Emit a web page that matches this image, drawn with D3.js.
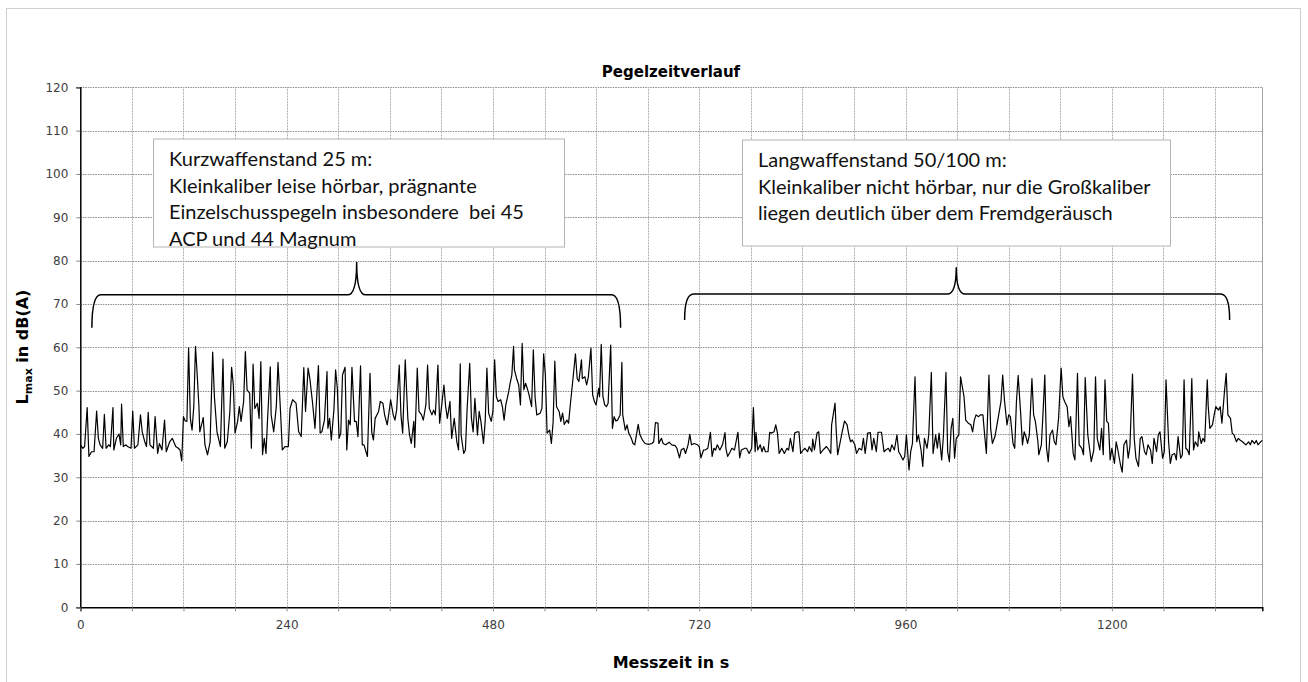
<!DOCTYPE html>
<html>
<head>
<meta charset="utf-8">
<script src="https://cdn.jsdelivr.net/npm/d3@7/dist/d3.min.js"></script>
<style>
  body { margin: 0; background: #fff; }
  svg { display: block; }
</style>
</head>
<body>
<div id="chart"></div>
<script>
var times = [
  0,3,5,8,10,13,16,19,21,23,26,28,30,33,35,38,39,42,45,47,48,50,53,55,59,61,63,67,70,72,75,77,79,81,85,87,90,92,95,98,
  100,104,107,111,114,116,118,120,122,124,126,128,130,132,134,136,138,139,142,143,145,148,151,154,156,159,163,166,168,171,
  174,176,178,180,183,185,187,190,192,194,197,199,201,203,206,208,210,212,214,216,218,221,222,225,228,230,233,235,238,242,
  244,247,251,254,257,260,262,265,267,270,
  273,277,279,281,284,287,288,290,292,295,297,299,301,303,305,308,310,312,314,316,319,321,323,326,328,330,334,337,339,341,
  343,347,349,352,354,357,359,361,364,366,368,371,373,375,378,381,383,385,388,389,392,394,397,399,402,404,406,409,411,413,
  416,418,420,423,425,427,430,432,435,438,440,442,443,446,448,450,453,455,457,459,462,464,466,469,471,473,475,478,480,482,
  484,486,489,491,493,495,498,500,502,504,505,508,510,512,514,516,518,520,522,525,527,529,531,535,537,539,541,543,546,548,
  550,552,554,557,559,561,563,566,568,570,573,576,578,580,583,584,587,589,591,594,596,598,600,603,604,606,608,610,612,614,
  617,619,621,623,625,628,630,631,634,636,638,641,643,645,649,651,654,657,661,665,667,669,672,673,676,678,681,685,688,692,
  694,697,699,702,704,707,709,711,714,718,720,722,725,727,730,733,735,737,739,741,744,747,750,751,753,756,758,761,765,767,
  769,773,775,778,781,783,785,786,788,791,793,795,797,800,802,804,807,809,811,813,816,819,822,
  824,826,829,831,834,836,838,841,843,846,848,851,852,854,857,859,861,864,868,871,873,874,878,879,881,884,886,889,892,894,
  896,898,901,903,906,909,911,913,916,919,921,923,926,928,932,935,937,940,942,944,947,950,952,954,957,959,961,964,966,968,
  971,973,975,978,980,982,985,987,990,992,995,997,999,1002,1004,1007,1009,1011,1013,1015,1017,1019,1022,1024,1026,1028,1030,1033,1036,1038,
  1040,1042,1045,1047,1050,1052,1054,1057,1059,1061,1064,1066,1068,1071,1073,1075,1078,1080,1082,1085,1087,1089,1091,1094,1096,1098,
  1100,1102,1104,1107,1109,1111,1114,1115,1118,1120,1122,1124,1126,1128,1131,1133,1135,1138,1141,1143,1145,1148,1150,1152,1155,1157,1160,1162,1165,1167,
  1169,1172,1174,1176,1179,1181,1183,1186,1188,1190,1192,1194,1196,1198,1200,1203,1205,1207,1210,1212,1214,1217,1219,1221,1224,1226,1228,1231,1233,1235,
  1238,1240,1242,1245,1247,1249,1252,1254,1256,1259,1261,1263,1266,1268,1270,1273,1275,1277,1280,1282,1284,1286,1288,1290,1293,1295,1297,1300,1301,1304,
  1306,1308,1311,1312,1314,1317,1319,1321,1324,1326,1328,1331,1333,1335,1338,1340,1342,1345,1347,1349,1352,1354,1356,1359,1361,1363,1366,1368,1370,1373,1375
];
// L_max in dB(A)
var levels = [
  37.5,36.7,37.1,46.1,34.8,35.9,35.9,45.3,39.0,37.5,36.7,44.5,36.7,37.5,37.1,46.1,36.3,39.0,40.0,37.5,46.9,37.1,37.5,37.1,36.7,45.3,36.7,37.5,44.4,40.5,38.2,37.1,45.0,37.5,36.7,44.0,35.5,37.8,36.3,43.2,
  35.9,38.2,39.0,37.1,36.7,36.3,33.8,44.0,43.0,42.9,59.9,43.6,40.9,46.3,60.2,53.6,46.3,40.5,42.9,43.8,37.5,35.2,38.2,58.9,48.6,40.5,37.1,57.3,36.7,38.2,
  45.2,55.4,51.3,40.2,42.9,46.3,42.9,47.5,59.0,50.2,49.4,36.7,56.1,45.9,47.1,43.6,56.7,35.2,39.0,35.5,44.0,55.5,44.4,40.5,46.3,56.5,44.8,36.3,37.1,37.1,
  45.9,47.9,47.1,40.5,39.4,55.3,45.2,55.2,52.8,47.5,
  41.3,55.8,40.2,40.5,43.2,54.4,41.3,43.6,38.6,45.5,54.8,50.5,39.0,40.2,53.6,55.4,36.3,43.2,42.1,55.4,42.9,42.9,39.4,55.7,37.5,37.5,34.8,54.0,40.5,38.6,
  43.6,45.2,47.5,47.1,44.4,42.1,44.8,47.9,44.4,43.2,45.5,55.9,44.4,40.2,57.1,43.6,39.8,37.8,42.9,36.9,55.2,45.2,44.4,43.2,46.7,55.9,45.9,44.4,45.5,44.4,
  55.9,42.5,45.9,51.3,46.3,43.6,47.5,39.0,43.6,38.2,36.3,56.2,39.8,35.5,36.3,45.9,56.3,43.6,40.5,48.2,39.8,45.2,42.9,37.8,42.9,55.2,44.8,42.9,45.2,57.1,
  48.6,47.5,47.9,46.3,43.2,46.7,49.4,51.7,53.6,60.2,54.8,52.5,51.3,46.7,60.9,50.2,51.7,50.5,49.0,46.3,59.4,48.6,44.4,44.8,45.9,58.5,53.6,40.2,40.9,37.8,
  42.7,56.8,46.3,45.2,42.9,44.8,42.2,43.2,42.5,46.7,52.5,58.5,52.8,52.1,57.1,52.8,53.2,51.3,53.2,59.8,49.0,47.5,46.7,50.5,48.6,60.7,48.6,46.7,46.3,47.1,
  60.5,41.3,44.0,43.0,43.2,44.4,56.5,44.4,40.9,42.1,40.2,39.0,37.8,37.5,42.2,39.8,38.6,37.8,37.6,37.8,38.2,42.6,42.5,37.8,39.0,37.8,37.5,38.1,37.5,37.3,
  36.7,34.5,36.3,36.7,35.5,37.5,39.9,37.5,37.8,37.5,37.1,34.5,36.3,36.3,36.7,40.4,34.8,36.7,36.3,37.5,36.3,37.5,40.3,36.7,34.8,35.9,36.7,36.3,40.4,34.5,
  36.3,36.7,36.7,35.5,36.7,46.1,35.9,40.4,36.3,37.5,35.9,37.1,35.9,35.9,40.4,40.2,40.5,42.1,40.2,35.5,36.7,35.5,36.7,
  36.3,39.0,35.9,40.2,40.5,40.5,35.5,36.3,36.7,35.9,37.1,35.9,38.8,36.3,40.2,40.5,35.5,36.3,37.1,36.3,35.5,42.1,47.1,42.1,35.2,38.2,40.2,43.0,42.1,39.8,
  38.2,38.6,37.5,35.5,36.7,36.3,39.0,35.5,40.2,40.3,36.3,39.0,35.9,40.4,40.4,35.9,36.3,36.7,35.9,37.5,36.3,39.8,35.9,35.2,34.0,34.8,39.8,31.7,35.9,37.8,
  53.2,38.2,39.8,36.3,32.5,39.0,36.7,39.8,54.2,35.5,39.8,36.7,40.2,34.0,39.4,54.2,35.9,33.6,41.3,43.6,34.4,39.0,39.8,53.2,50.9,48.6,43.2,42.5,42.1,40.5,
  43.2,44.4,44.0,44.4,44.4,39.8,35.5,53.6,41.3,37.8,39.4,41.7,44.0,47.5,53.6,47.9,42.1,44.4,44.0,37.8,36.7,47.5,53.5,44.4,37.5,40.5,
  39.4,37.8,39.8,52.8,44.4,42.9,38.2,35.2,37.5,45.2,53.6,36.7,33.6,39.8,40.9,38.2,37.5,43.6,55.2,48.6,47.5,46.3,41.7,44.0,35.5,34.0,54.0,37.5,36.7,35.2,
  53.0,39.8,36.7,33.6,36.3,53.2,39.0,36.3,41.3,35.2,52.5,42.9,42.5,34.0,36.7,33.2,38.2,36.3,32.9,31.2,37.5,38.6,34.4,37.1,53.8,39.0,34.4,32.5,39.0,39.4,
  35.9,35.2,37.5,36.3,33.2,39.0,35.9,39.8,40.5,34.4,35.9,52.5,38.2,33.2,35.2,35.5,34.0,39.4,34.4,35.2,52.5,36.7,36.3,35.2,52.8,36.3,38.2,37.1,40.5,37.8,
  39.0,38.2,52.5,46.7,41.3,42.1,44.4,46.3,45.5,46.3,42.5,49.8,54.0,44.4,43.6,40.2,39.8,38.2,39.0,38.6,38.2,37.8,37.5,38.2,37.5,38.5,37.8,38.5,37.5,38.2,38.5
];

var xTicks = [0, 240, 480, 720, 960, 1200];
var xMinor = [60, 120, 180, 300, 360, 420, 540, 600, 660, 780, 840, 900, 1020, 1080, 1140, 1260, 1320];
var yTicks = [0, 10, 20, 30, 40, 50, 60, 70, 80, 90, 100, 110, 120];

// annotation texts and where the braces sit (s / dB)
var boxLeftText = ["Kurzwaffenstand 25 m:", "Kleinkaliber leise hörbar, prägnante", "Einzelschusspegeln insbesondere  bei 45", "ACP und 44 Magnum"];
var boxRightText = ["Langwaffenstand 50/100 m:", "Kleinkaliber nicht hörbar, nur die Großkaliber", "liegen deutlich über dem Fremdgeräusch"];
var braceLeft = [13.5, 321.5, 628.5, 72.1, 79.7, 64.5];   // start, tip, end, line, tip level, end level
var braceRight = [703, 1019, 1337, 72.3, 78.5, 66.3];

var width = 1308, height = 682;
var margin = {top: 87.3, right: 45.7, bottom: 74.7, left: 80.3};
var axisFont = "'DejaVu Sans', Verdana, sans-serif";

var svg = d3.select("#chart")
  .append("svg")
  .attr("width", width)
  .attr("height", height)

// outer chart frame
svg.append("rect")
  .attr("x", 6.5).attr("y", 8.5)
  .attr("width", 1294).attr("height", 680)
  .attr("fill", "none")
  .attr("stroke", "#d0d0d0")

var x = d3.scaleLinear().domain([0, 1375]).range([margin.left, width - margin.right]);
var y = d3.scaleLinear().domain([0, 120]).range([height - margin.bottom, margin.top]);

// grid
svg.append("g")
  .selectAll("line")
  .data(yTicks.slice(1))
  .enter()
  .append("line")
  .attr("x1", x(0)).attr("x2", x(1375))
  .attr("y1", d => Math.round(y(d)) + 0.5).attr("y2", d => Math.round(y(d)) + 0.5)
  .attr("stroke", "#8c8c8c")
  .attr("stroke-dasharray", "1.5,1")

svg.append("g")
  .selectAll("line")
  .data(xMinor.concat(xTicks.slice(1)))
  .enter()
  .append("line")
  .attr("x1", d => Math.round(x(d)) + 0.5).attr("x2", d => Math.round(x(d)) + 0.5)
  .attr("y1", y(0)).attr("y2", y(120))
  .attr("stroke", "#b0b0b0")
  .attr("stroke-dasharray", "2,1")

// right border of the plot area
svg.append("line")
  .attr("x1", Math.round(x(1375)) + 0.5).attr("x2", Math.round(x(1375)) + 0.5)
  .attr("y1", y(0)).attr("y2", y(120))
  .attr("stroke", "#a6a6a6")

// y axis
var yAxis = svg.append("g")
  .attr("transform", "translate(" + x(0) + ",0)")
  .call(d3.axisLeft(y).tickValues(yTicks).tickSize(4).tickPadding(8))
yAxis.select(".domain").attr("stroke", "#000").attr("stroke-width", 1.5)
yAxis.selectAll(".tick line").attr("stroke", "#888")
yAxis.selectAll("text")
  .attr("font-family", axisFont)
  .attr("font-size", 12)
  .attr("fill", "#404040")

// x axis
var xAxis = svg.append("g")
  .attr("transform", "translate(0," + y(0) + ")")
  .call(d3.axisBottom(x).tickValues(xTicks.concat(xMinor)).tickSize(4).tickPadding(9)
    .tickFormat(d => xTicks.indexOf(d) >= 0 ? d : ""))
xAxis.select(".domain").attr("stroke", "#000").attr("stroke-width", 1.5)
xAxis.selectAll(".tick line").attr("stroke", "#888")
xAxis.selectAll("text")
  .attr("font-family", axisFont)
  .attr("font-size", 12)
  .attr("fill", "#404040")

// the level trace
var series = times.map((t, i) => ({t: t, v: levels[i]}));
var line = d3.line().x(d => x(d.t)).y(d => y(d.v));
svg.append("path")
  .datum(series)
  .attr("d", line)
  .attr("fill", "none")
  .attr("stroke", "#000")
  .attr("stroke-width", 1.2)
  .attr("stroke-linejoin", "round")

// curly braces
function bracePath(b) {
  var x0 = x(b[0]), xt = x(b[1]), x1 = x(b[2]);
  var yl = y(b[3]), yt = y(b[4]), ye = y(b[5]);
  var r = 9;
  return "M" + x0 + "," + ye +
    " Q" + x0 + "," + yl + " " + (x0 + r) + "," + yl +
    " L" + (xt - r) + "," + yl +
    " Q" + xt + "," + yl + " " + xt + "," + yt +
    " Q" + xt + "," + yl + " " + (xt + r) + "," + yl +
    " L" + (x1 - r) + "," + yl +
    " Q" + x1 + "," + yl + " " + x1 + "," + ye;
}
svg.selectAll(".brace")
  .data([braceLeft, braceRight])
  .enter()
  .append("path")
  .attr("class", "brace")
  .attr("d", bracePath)
  .attr("fill", "none")
  .attr("stroke", "#000")
  .attr("stroke-width", 1.5)

// text boxes
function textBox(bx, by, bw, bh, lines) {
  var g = svg.append("g")
  g.append("rect")
    .attr("x", bx + 0.5).attr("y", by + 0.5)
    .attr("width", bw).attr("height", bh)
    .attr("fill", "#fff")
    .attr("stroke", "#b4b4b4")
  g.selectAll("text")
    .data(lines)
    .enter()
    .append("text")
    .attr("x", bx + 16)
    .attr("y", (d, i) => by + 27.5 + i * 26.7)
    .attr("font-family", "Lato, 'Open Sans', sans-serif")
    .attr("font-size", 20)
    .attr("fill", "#111")
    .style("white-space", "pre")
    .text(d => d)
}
textBox(153, 138.5, 411, 108, boxLeftText);
textBox(742, 139.5, 428, 106, boxRightText);

// titles
svg.append("text")
  .attr("x", 671).attr("y", 77)
  .attr("text-anchor", "middle")
  .attr("font-family", axisFont)
  .attr("font-weight", "bold")
  .attr("font-size", 15)
  .text("Pegelzeitverlauf")

svg.append("text")
  .attr("x", 671).attr("y", 668)
  .attr("text-anchor", "middle")
  .attr("font-family", axisFont)
  .attr("font-weight", "bold")
  .attr("font-size", 16)
  .text("Messzeit in s")

var yl = svg.append("text")
  .attr("transform", "translate(28,347) rotate(-90)")
  .attr("text-anchor", "middle")
  .attr("font-family", axisFont)
  .attr("font-weight", "bold")
  .attr("font-size", 16)
yl.append("tspan").text("L")
yl.append("tspan").attr("font-size", 11).attr("dy", 4).text("max")
yl.append("tspan").attr("dy", -4).text(" in dB(A)")
</script>
</body>
</html>
